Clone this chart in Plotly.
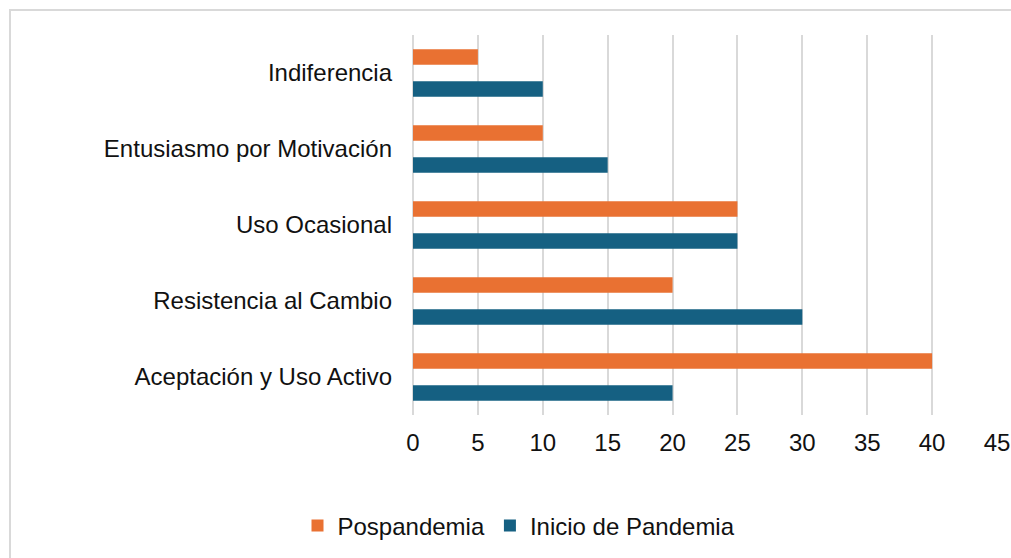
import plotly.graph_objects as go

categories = ["Indiferencia", "Entusiasmo por Motivación", "Uso Ocasional",
              "Resistencia al Cambio", "Aceptación y Uso Activo"]
pospandemia = [5, 10, 25, 20, 40]
inicio_pandemia = [10, 15, 25, 30, 20]
x_ticks = [0, 5, 10, 15, 20, 25, 30, 35, 40, 45]

ORANGE = "#E97132"
BLUE = "#156082"
FONT = "Liberation Sans, Arial, sans-serif"
FS = 24

fig = go.Figure()
fig.add_trace(go.Bar(y=categories, x=pospandemia, orientation="h",
                     name="Pospandemia", marker=dict(color=ORANGE, line=dict(width=0))))
fig.add_trace(go.Bar(y=categories, x=inicio_pandemia, orientation="h",
                     name="Inicio de Pandemia", marker=dict(color=BLUE, line=dict(width=0))))

W, H = 1011, 558
L, R, T, B = 413, 14, 35, 143
pw, ph = W - L - R, H - T - B
plot_bottom = H - B

fig.update_layout(
    width=W, height=H,
    margin=dict(l=L, r=R, t=T, b=B, autoexpand=False),
    paper_bgcolor="white", plot_bgcolor="white",
    barmode="group", bargap=0.158, bargroupgap=0.516,
    font=dict(family=FONT, size=FS, color="#111111"),
    showlegend=True,
    legend=dict(orientation="h", x=(519 - L) / pw, y=(plot_bottom - 526) / ph,
                xanchor="center", yanchor="middle",
                font=dict(family=FONT, size=FS, color="#111111"),
                traceorder="normal", bgcolor="rgba(0,0,0,0)"),
    xaxis=dict(range=[0, 45], tickvals=x_ticks, showgrid=True, gridcolor="#d9d9d9",
               gridwidth=1.5, zeroline=True, zerolinecolor="#d9d9d9", zerolinewidth=1.5,
               showline=False, ticks="", ticklabelstandoff=11, fixedrange=True,
               automargin=False),
    yaxis=dict(autorange="reversed", showgrid=False, zeroline=False, showline=False,
               ticks="", ticklabelstandoff=20, fixedrange=True, automargin=False),
    shapes=[dict(type="rect", xref="paper", yref="paper",
                 x0=(10 - L) / pw, x1=1.2, y0=-0.6, y1=1 + (T - 10) / ph,
                 line=dict(color="#d9d9d9", width=2), fillcolor="rgba(0,0,0,0)",
                 layer="below")],
)

fig.write_html("out.html", config={"displayModeBar": False},
               post_script="document.body.style.margin='0';document.body.style.overflow='hidden';")
